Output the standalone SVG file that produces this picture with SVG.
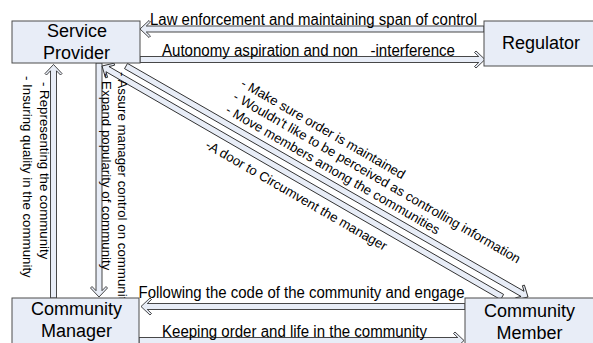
<svg xmlns="http://www.w3.org/2000/svg" width="593" height="343" viewBox="0 0 593 343">
<style>
.box{fill:#e8edf7;stroke:#4d4d4d;stroke-width:1}
.arr{fill:#e8edf7;stroke:#1a1a1a;stroke-width:0.8;stroke-linejoin:miter}
.t{font-family:"Liberation Sans",Arial,sans-serif;fill:#000}
.node{font-size:18px;text-anchor:middle}
.lbl{font-size:16px}
.sm{font-size:13.3px}
</style>
<rect width="593" height="343" fill="#fff"/>
<g id="connectors">
  <polygon class="arr" transform="translate(140,29)" points="0,0 9,-8.5 10.5,-7 6.3,-3 344,-3 344,3 6.3,3 10.5,7 9,8.5"/>
  <polygon class="arr" transform="translate(485,59.5) rotate(180)" points="0,0 9,-8.5 10.5,-7 6.3,-3 345,-3 345,3 6.3,3 10.5,7 9,8.5"/>
  <polygon class="arr" transform="translate(53.5,64.5) rotate(90)" points="0,0 9,-8.5 10.5,-7 6.3,-3 233.5,-3 233.5,3 6.3,3 10.5,7 9,8.5"/>
  <polygon class="arr" transform="translate(99,297) rotate(-90)" points="0,0 9,-8.5 10.5,-7 6.3,-3 234,-3 234,3 6.3,3 10.5,7 9,8.5"/>
  <polygon class="arr" transform="translate(528,297) rotate(209.88)" points="0,0 9,-8.5 10.5,-7 6.3,-3 463.6,-3 463.6,3 6.3,3 10.5,7 9,8.5"/>
  <polygon class="arr" transform="translate(102,66) rotate(30)" points="0,0 9,-8.5 10.5,-7 6.3,-3 462,-3 462,3 6.3,3 10.5,7 9,8.5"/>
  <polygon class="arr" transform="translate(141,306.5)" points="0,0 9,-8.5 10.5,-7 6.3,-3 324,-3 324,3 6.3,3 10.5,7 9,8.5"/>
  <polygon class="arr" transform="translate(464,340.5) rotate(180)" points="0,0 9,-8.5 10.5,-7 6.3,-3 325,-3 325,3 6.3,3 10.5,7 9,8.5"/>
</g>
<g id="labels" class="t">
  <text class="lbl" x="150" y="24.5" textLength="327" lengthAdjust="spacingAndGlyphs">Law enforcement and maintaining span of control</text>
  <text class="lbl" x="162" y="55.5" xml:space="preserve" textLength="293" lengthAdjust="spacingAndGlyphs">Autonomy aspiration and non   -interference</text>
  <text class="lbl" x="138.5" y="298" textLength="326" lengthAdjust="spacingAndGlyphs">Following the code of the community and engage</text>
  <text class="lbl" x="162" y="336.5" textLength="265" lengthAdjust="spacingAndGlyphs">Keeping order and life in the community</text>
  <text class="sm" transform="translate(39.5,82) rotate(90)">- Representing the community</text>
  <text class="sm" transform="translate(23,76) rotate(90)">- Insuring quality in the community</text>
  <text class="sm" transform="translate(117.5,72) rotate(90)">- Assure manager control on community</text>
  <text class="sm" transform="translate(101.5,73) rotate(90)">- Expand popularity of community</text>
  <g class="sm" transform="translate(240,86) rotate(30)">
    <text x="0" y="0">- Make sure order is maintained</text>
    <text x="0" y="15.3">- Wouldn't like to be perceived as controlling information</text>
    <text x="0" y="30.6">- Move members among the communities</text>
    <text x="0" y="71">-A door to Circumvent the manager</text>
  </g>
</g>
<g id="service-provider">
  <rect class="box" x="12" y="21" width="128" height="42"/>
  <text class="t node" x="77" y="37">Service</text>
  <text class="t node" x="76.5" y="58.5">Provider</text>
</g>
<g id="regulator">
  <rect class="box" x="484" y="21" width="115" height="45"/>
  <text class="t node" x="541" y="48.5">Regulator</text>
</g>
<g id="community-manager">
  <rect class="box" x="12" y="298" width="127" height="50"/>
  <text class="t node" x="76.5" y="315">Community</text>
  <text class="t node" x="76.5" y="337">Manager</text>
</g>
<g id="community-member">
  <rect class="box" x="465" y="298" width="135" height="50"/>
  <text class="t node" x="529.5" y="316.5">Community</text>
  <text class="t node" x="529.5" y="338.5">Member</text>
</g>
</svg>
